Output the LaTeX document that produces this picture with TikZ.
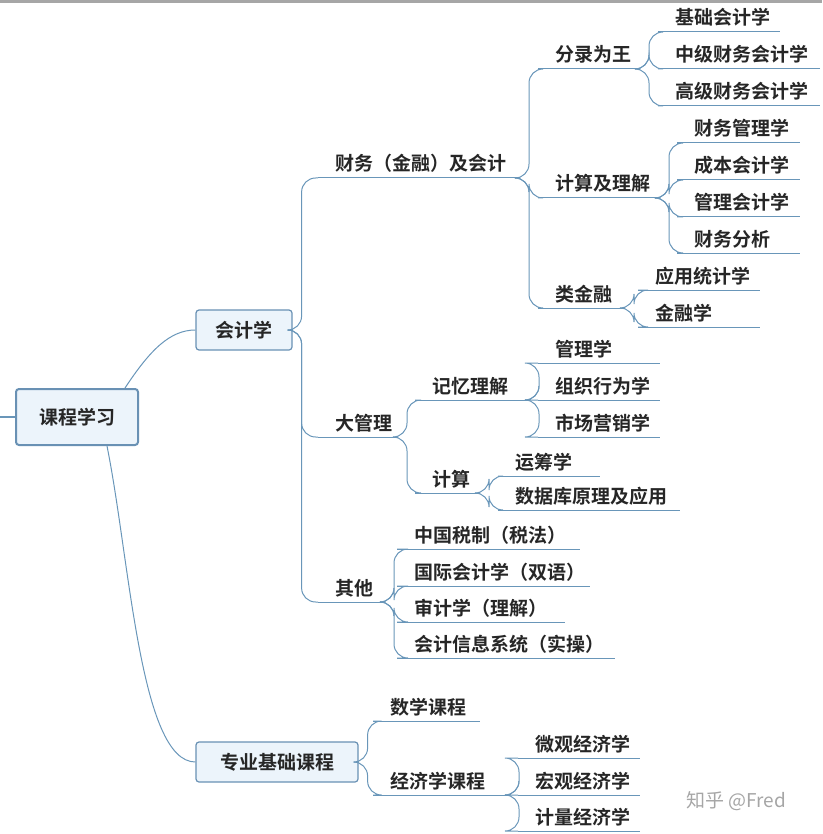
\documentclass[tikz,border=0pt]{standalone}
\usepackage{fontspec}
\newfontfamily\cjk{Noto Sans CJK SC}[BoldFont={Noto Sans CJK SC Bold}]
\usetikzlibrary{calc}
\definecolor{lnc}{RGB}{105,150,185}
\definecolor{boxfill}{RGB}{236,244,251}
\definecolor{boxdraw}{RGB}{105,145,180}
\tikzset{
 ln/.style={draw=lnc,line width=1pt},
 lbl/.style={font=\cjk\bfseries\fontsize{19}{22}\selectfont,text=black!85,inner sep=0pt},
 box/.style={draw=boxdraw,fill=boxfill,rounded corners=3pt,line width=1.2pt,font=\cjk\bfseries\fontsize{19}{22}\selectfont,text=black!85},
}
\newcommand\tp[5]{%
 \coordinate (#1-s) at (#2,#4); \coordinate (#1-e) at (#3,#4);
 \draw[ln] (#1-s)--(#1-e);
 \node[lbl,anchor=base west] (#1) at ($(#1-s)+(17,-7)$) {#5};}
\newcommand\cn[2]{\draw[ln,rounded corners=14pt] (#1) -- ++(9,0) |- (#2);}
\begin{document}
\begin{tikzpicture}[x=1pt,y=-1pt]
\useasboundingbox (0,0) rectangle (822,834);
\fill[gray!70] (0,0) rectangle (822,3);
% boxes
\node[box,minimum width=122pt,minimum height=56pt,line width=2pt] (root) at (77,417) {课程学习};
\node[box,minimum width=96pt,minimum height=40pt] (kj) at (244,330) {会计学};
\node[box,minimum width=162pt,minimum height=40pt] (zy) at (277,762) {专业基础课程};
\coordinate (lefte) at (0,417);
\draw[ln,line width=2pt] (lefte) -- (root.west);
% level 2
\tp{cw}{318}{520}{178}{财务（金融）及会计}
\tp{dgl}{318}{398}{437}{大管理}
\tp{qt}{318}{385}{602}{其他}
% level 3
\tp{fl}{538}{640}{69}{分录为王}
\tp{js}{538}{660}{198}{计算及理解}
\tp{ljr}{538}{625}{308}{类金融}
\tp{a1}{658}{780}{32}{基础会计学}
\tp{a2}{658}{820}{69}{中级财务会计学}
\tp{a3}{658}{820}{106}{高级财务会计学}
\tp{b1}{677}{800}{143}{财务管理学}
\tp{b2}{677}{800}{180}{成本会计学}
\tp{b3}{677}{800}{217}{管理会计学}
\tp{b4}{677}{800}{253}{财务分析}
\tp{c1}{638}{760}{290}{应用统计学}
\tp{c2}{638}{760}{327}{金融学}
\tp{jy}{415}{530}{400}{记忆理解}
\tp{jsu}{415}{480}{493}{计算}
\tp{d1}{538}{660}{363}{管理学}
\tp{d2}{538}{660}{400}{组织行为学}
\tp{d3}{538}{660}{437}{市场营销学}
\tp{e1}{498}{600}{476}{运筹学}
\tp{e2}{498}{680}{510}{数据库原理及应用}
\tp{f1}{397}{580}{549}{中国税制（税法）}
\tp{f2}{397}{590}{586}{国际会计学（双语）}
\tp{f3}{397}{565}{622}{审计学（理解）}
\tp{f4}{397}{615}{658}{会计信息系统（实操）}
\tp{sx}{373}{480}{721}{数学课程}
\tp{jj}{373}{510}{795}{经济学课程}
\tp{g1}{518}{640}{758}{微观经济学}
\tp{g2}{518}{640}{795}{宏观经济学}
\tp{g3}{518}{640}{831}{计量经济学}
% connectors
\draw[ln] ($(root.north)+(48,0)$) .. controls (150,350) and (170,330) .. (kj.west);
\draw[ln] ($(root.south)+(30,0)$) .. controls (130,560) and (140,762) .. (zy.west);
\cn{kj.east}{cw-s}\cn{kj.east}{dgl-s}\cn{kj.east}{qt-s}
\cn{cw-e}{fl-s}\cn{cw-e}{js-s}\cn{cw-e}{ljr-s}
\cn{fl-e}{a1-s}\cn{fl-e}{a2-s}\cn{fl-e}{a3-s}
\cn{js-e}{b1-s}\cn{js-e}{b2-s}\cn{js-e}{b3-s}\cn{js-e}{b4-s}
\cn{ljr-e}{c1-s}\cn{ljr-e}{c2-s}
\cn{dgl-e}{jy-s}\cn{dgl-e}{jsu-s}
\cn{jy-e}{d1-s}\cn{jy-e}{d2-s}\cn{jy-e}{d3-s}
\cn{jsu-e}{e1-s}\cn{jsu-e}{e2-s}
\cn{qt-e}{f1-s}\cn{qt-e}{f2-s}\cn{qt-e}{f3-s}\cn{qt-e}{f4-s}
\cn{zy.east}{sx-s}\cn{zy.east}{jj-s}
\cn{jj-e}{g1-s}\cn{jj-e}{g2-s}\cn{jj-e}{g3-s}
\node[font=\cjk\fontsize{19}{22}\selectfont,text=gray!70] (wm) at (736,801) {知乎 @Fred};
\end{tikzpicture}
\end{document}
